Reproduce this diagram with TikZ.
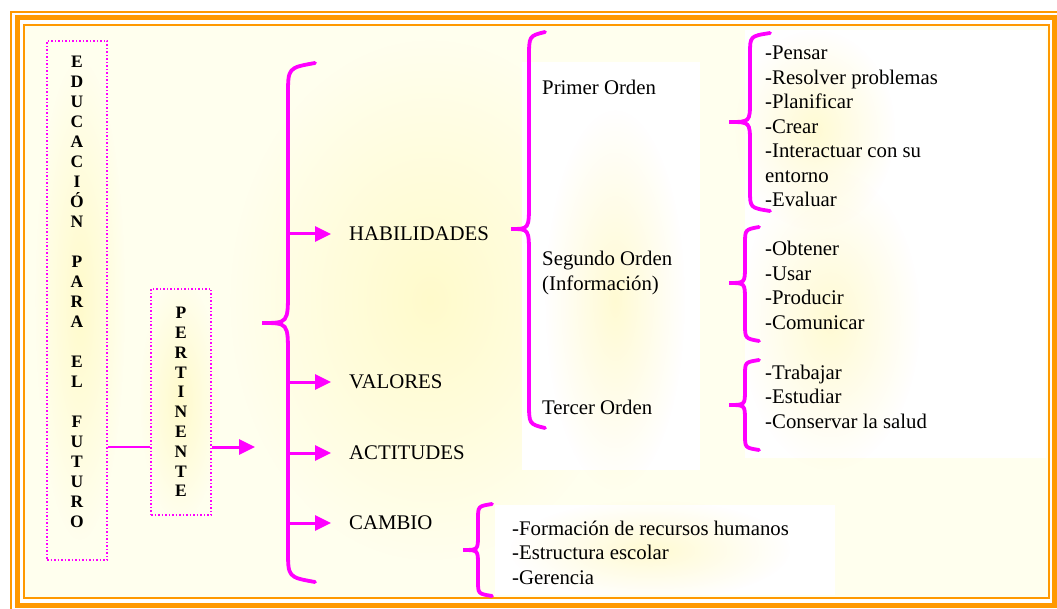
\documentclass[tikz,border=0pt]{standalone}
\usepackage{fontspec}
\setmainfont{Liberation Serif}
\usepackage{tikz}
\usetikzlibrary{arrows.meta,fadings}

\definecolor{pink}{RGB}{255,0,255}
\definecolor{frameorange}{RGB}{255,153,0}
\definecolor{paper}{RGB}{255,255,238}
\definecolor{glow}{RGB}{255,247,175}

\tikzfading[name=glowfade,inner color=transparent!45,outer color=transparent!100]

% curly brace: stem x, end x, top y, tip x, tip y, bottom y, bend
\newcommand{\drawbrace}[7]{%
	\draw[curly] (#2,#3) .. controls (#1,{#3+0.15*#7}) .. (#1,{#3+#7})
		-- (#1,{#5-#7}) .. controls (#1,#5) .. (#4,#5)
		.. controls (#1,#5) .. (#1,{#5+#7})
		-- (#1,{#6-#7}) .. controls (#1,{#6-0.15*#7}) .. (#2,#6);}

\begin{document}
\begin{tikzpicture}[
	x=1pt,y=-1pt,
	curly/.style={draw=pink,line width=3.8pt,line cap=round},
	arrow/.style={draw=pink,line width=3pt,-{Triangle[length=16pt,width=15pt]}},
	link/.style={draw=pink,line width=1.5pt},
	letterbox/.style={draw=pink,line width=1.5pt,dash pattern=on 1.5pt off 2pt,inner sep=0pt},
	vletters/.style={align=center,inner sep=0pt},
	txt/.style={anchor=west,inner sep=0pt,align=left,font=\fontsize{20.8}{24.5}\selectfont},
	soft/.style={fill=glow,path fading=glowfade}
]
	\useasboundingbox (0,0) rectangle (1057,609);

	% paper and frame
	\fill[paper] (24,25) rectangle (1049,598);
	\fill[soft] (430,300) ellipse (200 and 260);
	\fill[soft] (80,300) ellipse (45 and 240);
	\fill[soft] (180,400) ellipse (40 and 120);
	\fill[white] (522,62) rectangle (700,470);
	\fill[white] (745,30) rectangle (1046,458);
	\fill[white] (495,505) rectangle (835,595);
	\fill[soft] (615,300) ellipse (70 and 190);
	\fill[soft] (830,320) ellipse (90 and 150);
	\fill[soft] (815,130) ellipse (80 and 100);
	\fill[soft] (650,550) ellipse (140 and 50);
	\draw[frameorange,line width=1.5pt] (11,12) rectangle (1060,611);
	\draw[frameorange,line width=5pt] (17,17.5) rectangle (1054.5,605);
	\draw[frameorange,line width=2pt] (24,25) rectangle (1049,598);

	% left columns
	\node[letterbox,minimum width=60pt,minimum height=519pt] (edubox) at (77,300.5) {};
	\node[vletters,font=\bfseries\fontsize{17.5}{20}\selectfont] (edu) at (77,292)
		{E\\D\\U\\C\\A\\C\\I\\Ó\\N\\~\\P\\A\\R\\A\\~\\E\\L\\~\\F\\U\\T\\U\\R\\O};
	\node[letterbox,vletters,minimum width=60pt,minimum height=226pt,
		font=\bfseries\fontsize{17.5}{19.8}\selectfont] (pert) at (181,402)
		{P\\E\\R\\T\\I\\N\\E\\N\\T\\E};
	\coordinate (join) at (0,447);
	\coordinate (into) at (255,447);
	\draw[link] (edubox.east |- join) -- (pert.west |- join);
	\draw[arrow] (pert.east |- join) -- (into);

	% main brace
	\drawbrace{288}{315}{63}{262}{323}{582}{32}
	\coordinate (stem) at (286,0);
	\node[txt] (hab) at (349,234) {HABILIDADES};
	\node[txt] (val) at (349,382) {VALORES};
	\node[txt] (act) at (349,453) {ACTITUDES};
	\node[txt] (cam) at (349,523) {CAMBIO};
	\draw[arrow] (stem |- hab.west) -- ([xshift=-18pt]hab.west);
	\draw[arrow] (stem |- val.west) -- ([xshift=-18pt]val.west);
	\draw[arrow] (stem |- act.west) -- ([xshift=-18pt]act.west);
	\draw[arrow] (stem |- cam.west) -- ([xshift=-18pt]cam.west);

	% HABILIDADES
	\drawbrace{529}{545}{32}{511}{229}{428}{26}
	\node[txt] (first) at (542,87) {Primer Orden};
	\node[txt] (second) at (542,273) {Segundo Orden\\(Información)};
	\node[txt] (third) at (542,407) {Tercer Orden};

	\drawbrace{750}{770}{33}{729}{122}{211}{21}
	\node[txt] (firstlist) at (765,126.5)
		{-Pensar\\-Resolver problemas\\-Planificar\\-Crear\\-Interactuar con su\\entorno\\-Evaluar};
	\drawbrace{745}{759}{227}{729}{283}{341}{17}
	\node[txt] (secondlist) at (765,285.5) {-Obtener\\-Usar\\-Producir\\-Comunicar};
	\drawbrace{745}{759}{360}{729}{405}{450}{15}
	\node[txt] (thirdlist) at (765,396.5) {-Trabajar\\-Estudiar\\-Conservar la salud};

	% CAMBIO
	\drawbrace{478}{492}{504}{463}{550}{596}{15}
	\node[txt] (camlist) at (512,552.5)
		{-Formación de recursos humanos\\-Estructura escolar\\-Gerencia};
\end{tikzpicture}
\end{document}
